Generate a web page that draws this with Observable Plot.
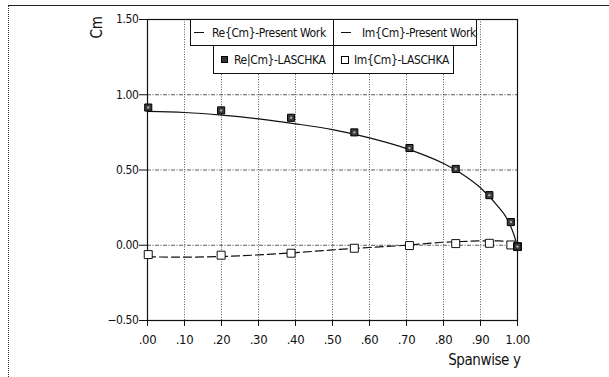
<!DOCTYPE html>
<html>
<head>
<meta charset="utf-8">
<script src="https://cdn.jsdelivr.net/npm/d3@7"></script>
<script src="https://cdn.jsdelivr.net/npm/@observablehq/plot@0.6"></script>
<style>
  html, body { margin: 0; padding: 0; background: #fff; }
  #wrap { position: relative; width: 609px; height: 377px; overflow: hidden; background: #fff;
          font-family: "Liberation Sans Narrow", "DejaVu Sans Condensed", "Arial Narrow", sans-serif; }
  #outer { position: absolute; left: 8px; top: 5px; width: 601px; height: 372px; box-sizing: border-box;
           border-top: 1.5px solid #222; border-left: 1px dotted #333; }
  #chart { position: absolute; left: 0; top: 0; }
  .cell { position: absolute; box-sizing: border-box; border: 1px solid #111; background: #fff;
          display: flex; align-items: center; font-size: 12px; letter-spacing: -0.35px; color: #111;
          white-space: nowrap; overflow: hidden; }
  .cell span { flex-shrink: 0; }
  .dash { display: inline-block; width: 10px; height: 1.3px; background: #111; }
  .sqf { display: inline-block; width: 7px; height: 7px; box-sizing: border-box; background: #333; border: 1px solid #000; }
  .sqo { display: inline-block; width: 8px; height: 8px; box-sizing: border-box; background: #fff; border: 1px solid #000; }
  #chart svg text { letter-spacing: -0.4px; }
</style>
</head>
<body>
<div id="wrap">
  <div id="outer"></div>
  <div id="chart"></div>
  <div class="cell" style="left:190px;top:19px;width:144px;height:27px;">
    <span class="dash" style="margin-left:3px;margin-right:8px;"></span><span id="l1"></span>
  </div>
  <div class="cell" style="left:333px;top:19px;width:144px;height:27px;">
    <span class="dash" style="margin-left:7px;margin-right:11px;"></span><span id="l2"></span>
  </div>
  <div class="cell" style="left:213px;top:45px;width:121px;height:29px;">
    <span class="sqf" style="margin-left:7px;margin-right:6px;"></span><span id="l3"></span>
  </div>
  <div class="cell" style="left:333px;top:45px;width:121px;height:29px;">
    <span class="sqo" style="margin-left:7px;margin-right:5px;"></span><span id="l4"></span>
  </div>
</div>
<script>
// ---- Data ----
const seriesNames = ["Re{Cm}-Present Work", "Im{Cm}-Present Work", "Re|Cm}-LASCHKA", "Im{Cm}-LASCHKA"];

const presentX  = [0, 0.1, 0.2, 0.3, 0.4, 0.5, 0.6, 0.7, 0.8, 0.85, 0.9, 0.95, 0.97, 0.99, 1.0];
const presentRe = [0.889, 0.882, 0.865, 0.840, 0.807, 0.768, 0.713, 0.642, 0.543, 0.474, 0.382, 0.250, 0.183, 0.073, -0.010];
const presentIm = [-0.077, -0.079, -0.075, -0.064, -0.049, -0.031, -0.015, 0.000, 0.020, 0.025, 0.029, 0.029, 0.025, 0.015, -0.009];

const laschkaX  = [0.002, 0.199, 0.388, 0.559, 0.708, 0.833, 0.924, 0.982, 1.0];
const laschkaRe = [0.915, 0.896, 0.847, 0.750, 0.646, 0.507, 0.333, 0.154, -0.009];
const laschkaIm = [-0.062, -0.066, -0.053, -0.020, -0.002, 0.011, 0.013, 0.002, -0.009];

const xTicks = [0, 0.1, 0.2, 0.3, 0.4, 0.5, 0.6, 0.7, 0.8, 0.9, 1.0];
const yTicks = [-0.5, 0, 0.5, 1.0, 1.5];
const yGrid  = [0, 0.5, 1.0];
const xLabel = "Spanwise y";
const yLabel = "Cm";

// ---- Build tables ----
const present = presentX.map((x, i) => ({x, re: presentRe[i], im: presentIm[i]}));
const laschka = laschkaX.map((x, i) => ({x, re: laschkaRe[i], im: laschkaIm[i]}));

document.getElementById("l1").textContent = seriesNames[0];
document.getElementById("l2").textContent = seriesNames[1];
document.getElementById("l3").textContent = seriesNames[2];
document.getElementById("l4").textContent = seriesNames[3];

const f2 = d3.format(".2f");
const xFmt = d => d >= 1 ? f2(d) : f2(d).replace(/^0/, "");

const chart = Plot.plot({
  width: 609,
  height: 377,
  marginLeft: 147,
  marginRight: 92,
  marginTop: 19,
  marginBottom: 57,
  style: {
    fontFamily: '"Liberation Sans Narrow", "DejaVu Sans Condensed", "Arial Narrow", sans-serif',
    fontSize: "12px",
    color: "#111",
    background: "transparent"
  },
  x: {domain: [0, 1]},
  y: {domain: [-0.5, 1.5]},
  marks: [
    Plot.gridX(xTicks, {stroke: "#333", strokeOpacity: 0.8, strokeDasharray: "1,1.5"}),
    Plot.gridY(yGrid, {stroke: "#333", strokeOpacity: 0.8, strokeDasharray: "4,1.5,1,1.5"}),
    Plot.frame({stroke: "#111", strokeWidth: 1.2}),
    Plot.axisX({ticks: xTicks, tickFormat: xFmt, tickSize: 6, tickPadding: 8, label: null, fontSize: 13}),
    Plot.axisY({ticks: yTicks, tickFormat: f2, tickSize: 8, tickPadding: 1, label: null}),
    Plot.line(present, {x: "x", y: "re", stroke: "#111", strokeWidth: 1.2, curve: "monotone-x"}),
    Plot.line(present, {x: "x", y: "im", stroke: "#111", strokeWidth: 1.2, strokeDasharray: "8,4", curve: "monotone-x"}),
    Plot.dot(laschka, {x: "x", y: "im", symbol: "square", r: 4.5, fill: "white", stroke: "#111", strokeWidth: 1}),
    Plot.dot(laschka, {x: "x", y: "re", symbol: "square", r: 4, fill: "#3a3a3a", stroke: "#000", strokeWidth: 1}),
    Plot.dot(laschka, {x: "x", y: "re", r: 1.2, fill: "#aaa"}),
    Plot.text([xLabel], {frameAnchor: "bottom-right", textAnchor: "end", dx: 3, dy: 40, fontSize: 15, lineAnchor: "middle"}),
    Plot.text([yLabel], {frameAnchor: "top-left", rotate: -90, textAnchor: "middle", lineAnchor: "middle", dx: -50, dy: 8, fontSize: 15})
  ]
});
document.getElementById("chart").appendChild(chart);
</script>
</body>
</html>
